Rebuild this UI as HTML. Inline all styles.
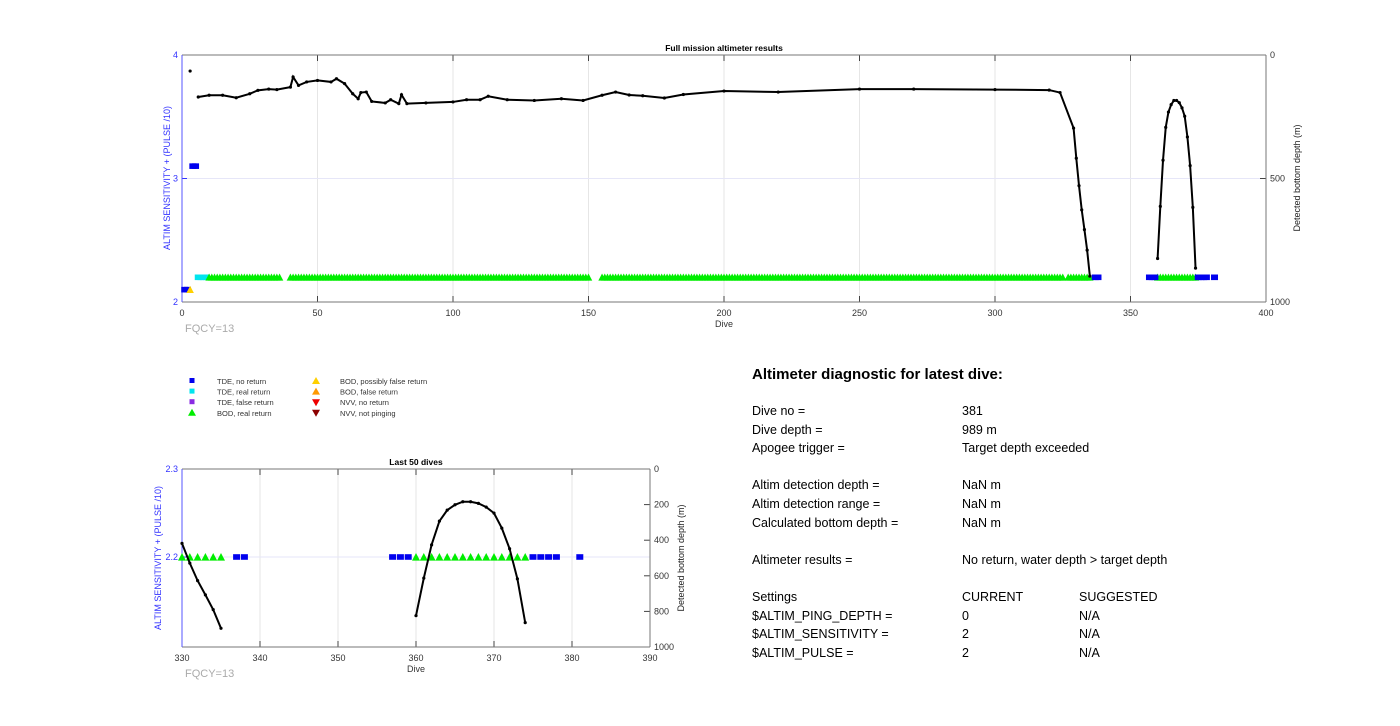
<!DOCTYPE html>
<html><head><meta charset="utf-8"><style>
body{margin:0;background:#fff;font-family:"Liberation Sans",Arial,sans-serif}
#wrap{position:relative;width:1400px;height:726px;overflow:hidden}
.t{position:absolute;font-size:12.5px;color:#000;white-space:nowrap}
</style></head><body>
<div id="wrap">
<svg id="svg" width="1400" height="726" style="position:absolute;left:0;top:0"></svg>
<div class="t" style="left:752px;top:366px;font-size:15px;font-weight:bold">Altimeter diagnostic for latest dive:</div>
<div id="diag"></div>
</div>
<script>
// ===== data =====
const topDepthDives=[6,10,15,20,25,28,32,35,40,41,43,46,50,55,57,60,63,65,66,68,70,75,77,80,81,83,90,100,105,110,113,120,130,140,148,155,160,165,170,178,185,200,220,250,270,300,320,324,329,330,331,332,333,334,335];
const topDepthVals=[170,163,163,173,157,143,138,140,130,89,123,109,103,109,96,116,157,177,152,150,188,194,181,197,161,197,194,190,181,181,167,181,184,177,184,163,150,162,165,174,160,146,150,138,138,140,142,152,296,418,529,627,707,790,895];
const arcDives=[360,361,362,363,364,365,366,367,368,369,370,371,372,373,374];
const arcDepths=[824,613,426,293,231,201,184,184,193,214,248,332,448,617,863];
const isoDive=[3]; const isoDepth=[65];
// marker ranges: [startDive, endDive, value]
const tdeNoReturn=[[1,2,2.1],[4,5,3.1],[337,338,2.2],[357,359,2.2],[375,378,2.2],[381,381,2.2]];
const tdeRealReturn=[[6,9,2.2]];
const bodRealReturn=[[10,36,2.2],[40,141,2.2],[142,150,2.2],[155,312,2.2],[313,325,2.2],[327,335,2.2],[360,374,2.2]];
const bodPossFalse=[[3,3,2.1]];
const xTicksTop=[0,50,100,150,200,250,300,350,400];
const xTicksBot=[330,340,350,360,370,380,390];
const depthTicksBot=[0,200,400,600,800,1000];
const diagRows=[["Dive no =","381",""],["Dive depth =","989 m",""],["Apogee trigger =","Target depth exceeded",""],null,["Altim detection depth =","NaN m",""],["Altim detection range =","NaN m",""],["Calculated bottom depth =","NaN m",""],null,["Altimeter results =","No return, water depth > target depth",""],null,["Settings","CURRENT","SUGGESTED"],["$ALTIM_PING_DEPTH =","0","N/A"],["$ALTIM_SENSITIVITY =","2","N/A"],["$ALTIM_PULSE =","2","N/A"]];

const NS="http://www.w3.org/2000/svg", svg=document.getElementById('svg');
function mk(tag,attrs,parent,txt){const e=document.createElementNS(NS,tag);for(const k in attrs)e.setAttribute(k,attrs[k]);if(txt!==undefined)e.textContent=txt;(parent||svg).appendChild(e);return e;}

function chart(cfg){
 const g=mk('g',{});
 
 
 const X=d=>cfg.x0+(d-cfg.xmin)/(cfg.xmax-cfg.xmin)*(cfg.x1-cfg.x0);
 const Y=v=>cfg.y1-(v-cfg.ymin)/(cfg.ymax-cfg.ymin)*(cfg.y1-cfg.y0);
 const D=v=>cfg.y0+v/1000*(cfg.y1-cfg.y0);
 cfg.xticks.forEach(t=>{const x=X(t);
  if(t>cfg.xmin&&t<cfg.xmax){const l=mk('line',{x1:x,x2:x,y1:cfg.y0,y2:cfg.y1,stroke:'#e6e6e6','stroke-width':1},g);
   
   mk('line',{x1:x,x2:x,y1:cfg.y1,y2:cfg.y1-6,stroke:'#444'},g);mk('line',{x1:x,x2:x,y1:cfg.y0,y2:cfg.y0+6,stroke:'#444'},g);}
  const tx=mk('text',{x:x,y:cfg.y1+14,'font-size':9,'text-anchor':'middle',fill:'#333'},g,t);
  });
 cfg.hgrid.forEach(v=>{mk('line',{x1:cfg.x0,x2:cfg.x1,y1:Y(v),y2:Y(v),stroke:'#e6e6f8'},g);});
 cfg.yticks.forEach(v=>{const tx=mk('text',{x:cfg.x0-4,y:Y(v)+3,'font-size':9,'text-anchor':'end',fill:'#33f'},g,v);
  
  mk('line',{x1:cfg.x0,x2:cfg.x0+5,y1:Y(v),y2:Y(v),stroke:'#33f'},g);});
 cfg.dticks.forEach(v=>{const tx=mk('text',{x:cfg.x1+4,y:D(v)+3,'font-size':9,fill:'#333'},g,v);
  
  mk('line',{x1:cfg.x1-6,x2:cfg.x1,y1:D(v),y2:D(v),stroke:'#444'},g);});
 mk('line',{x1:cfg.x0,x2:cfg.x1,y1:cfg.y0,y2:cfg.y0,stroke:'#777'},g);
 mk('line',{x1:cfg.x0,x2:cfg.x1,y1:cfg.y1,y2:cfg.y1,stroke:'#777'},g);
 mk('line',{x1:cfg.x0,x2:cfg.x0,y1:cfg.y0,y2:cfg.y1,stroke:'#55f'},g);
 mk('line',{x1:cfg.x1,x2:cfg.x1,y1:cfg.y0,y2:cfg.y1,stroke:'#777'},g);
 const cl=mk('clipPath',{id:cfg.name+'-clip'},g);mk('rect',{x:cfg.x0-6,y:cfg.y0-6,width:cfg.x1-cfg.x0+12,height:cfg.y1-cfg.y0+12},cl);
 const pg=mk('g',{'clip-path':'url(#'+cfg.name+'-clip)'},g);
 const sq=cfg.sq, tri=cfg.tri;
 function ranges(arr,color,shape,nm){arr.forEach(r=>{for(let d=r[0];d<=r[1];d++){if(d<cfg.xmin||d>cfg.xmax)continue;const x=X(d),y=Y(r[2]);let e;
  if(shape==='sq')e=mk('rect',{x:x-sq/2,y:y-sq*0.4,width:sq,height:sq*0.8,fill:color},pg);
  else e=mk('polygon',{points:`${x-tri/2},${y+tri*0.45} ${x+tri/2},${y+tri*0.45} ${x},${y-tri*0.5}`,fill:color},pg);
  }});}
 ranges(tdeRealReturn,'#00e5ee','sq','tde-real-return-marker');
 ranges(bodRealReturn,'#00ee00','tri','bod-real-return-marker');
 ranges(tdeNoReturn,'#0000ee','sq','tde-no-return-marker');
 ranges(bodPossFalse,'#ffd000','tri','bod-possibly-false-marker');
 function line(ds,vs,nm){const pts=[];ds.forEach((d,i)=>{if(d>=cfg.xmin&&d<=cfg.xmax)pts.push([X(d),D(vs[i])]);});
  if(pts.length>1){const p=mk('polyline',{points:pts.map(p=>p.join(',')).join(' '),fill:'none',stroke:'#000','stroke-width':cfg.lw},pg);
   }
  pts.forEach(p=>{const c=mk('circle',{cx:p[0],cy:p[1],r:cfg.mr,fill:'#000'},pg);});}
 line(topDepthDives,topDepthVals,'bottom-depth-line');
 line(arcDives,arcDepths,'bottom-depth-arc');
 line(isoDive,isoDepth,'bottom-depth-isolated');
 let t=mk('text',{x:(cfg.x0+cfg.x1)/2,y:cfg.y0-4,'font-size':8.5,'font-weight':'bold','text-anchor':'middle'},g,cfg.title);
 t=mk('text',{x:(cfg.x0+cfg.x1)/2,y:cfg.y1+25,'font-size':9,'text-anchor':'middle',fill:'#333'},g,'Dive');
 t=mk('text',{x:cfg.ylx,y:cfg.yly,'font-size':9,'text-anchor':'middle',fill:'#33f',transform:`rotate(-90 ${cfg.ylx} ${cfg.yly})`},g,'ALTIM SENSITIVITY + (PULSE /10)');
 t=mk('text',{x:cfg.yrx,y:cfg.yly,'font-size':9,'text-anchor':'middle',fill:'#222',transform:`rotate(-90 ${cfg.yrx} ${cfg.yly})`},g,'Detected bottom depth (m)');
 t=mk('text',{x:cfg.x0+3,y:cfg.y1+30,'font-size':11,fill:'#aaa'},g,'FQCY=13');
}
chart({name:'full-mission-chart',title:'Full mission altimeter results',x0:182,x1:1266,y0:55,y1:302,xmin:0,xmax:400,ymin:2,ymax:4,xticks:xTicksTop,yticks:[2,3,4],hgrid:[3],dticks:[0,500,1000],sq:7,tri:7.5,lw:2,mr:1.6,ylx:170,yly:178,yrx:1300});
chart({name:'last-50-dives-chart',title:'Last 50 dives',x0:182,x1:650,y0:469,y1:647,xmin:330,xmax:390,ymin:2.0977,ymax:2.3,xticks:xTicksBot,yticks:[2.2,2.3],hgrid:[2.2],dticks:depthTicksBot,sq:7,tri:8,lw:2,mr:1.6,ylx:161,yly:558,yrx:684});

// legend
const legItems=[["TDE, no return","#0000ee","sq"],["TDE, real return","#00e5ee","sq"],["TDE, false return","#8a2be2","sq"],["BOD, real return","#00ee00","tri"],["BOD, possibly false return","#ffd000","tri"],["BOD, false return","#ff9900","tri"],["NVV, no return","#ee0000","dtri"],["NVV, not pinging","#8b0000","dtri"]];
const lg=mk('g',{});
legItems.forEach((it,i)=>{const col=Math.floor(i/4),row=i%4;const mx=col?316:192,tx=col?340:217,y=381+row*10.6;
 const g=mk('g',{},lg);
 if(it[2]==='sq')mk('rect',{x:mx-2.5,y:y-3,width:5,height:5,fill:it[1]},g);
 else if(it[2]==='tri')mk('polygon',{points:`${mx-4},${y+3} ${mx+4},${y+3} ${mx},${y-4}`,fill:it[1]},g);
 else mk('polygon',{points:`${mx-4},${y-3} ${mx+4},${y-3} ${mx},${y+4}`,fill:it[1]},g);
 mk('text',{x:tx,y:y+3,'font-size':7.5,fill:'#333'},g,it[0]);});

// diagnostic table
const diag=document.getElementById('diag');
let yy=404;
diagRows.forEach(r=>{if(r){[752,962,1079].forEach((x,j)=>{if(!r[j])return;const d=document.createElement('div');d.className='t';d.style.left=x+'px';d.style.top=yy+'px';d.textContent=r[j];
 
 
 diag.appendChild(d);});}
 yy+=18.6;});
</script>
</body></html>
